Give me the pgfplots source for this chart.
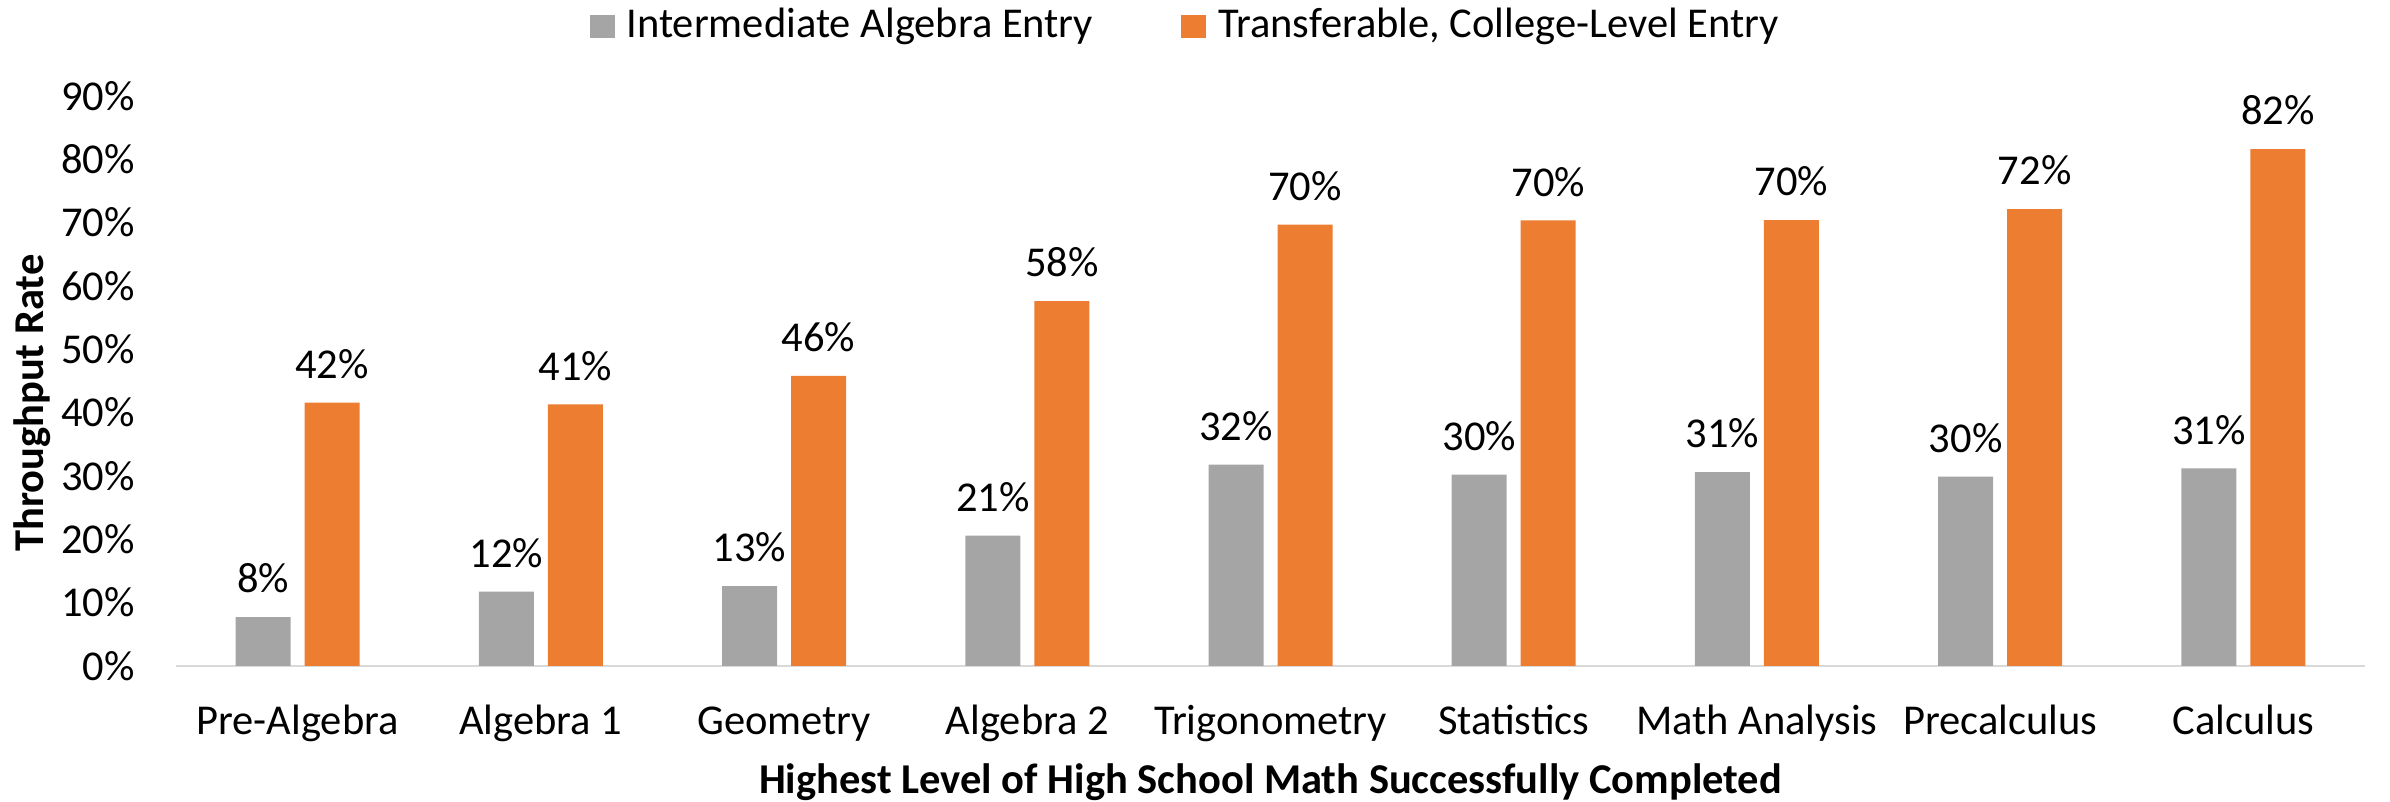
\documentclass[border=0pt]{standalone}
\usepackage{fontspec}
\setmainfont{Carlito}
\usepackage{pgfplots}
\pgfplotsset{compat=1.18}
\definecolor{cgray}{HTML}{A5A5A5}
\definecolor{corange}{HTML}{ED7D31}
\definecolor{caxis}{HTML}{D9D9D9}
\pgfplotsset{sqlegend/.style={legend image code/.code={\fill[##1] (0pt,-4.6pt) rectangle (10pt,4.6pt);}}}
\begin{document}
\fontsize{17}{20}\selectfont
\begin{tikzpicture}[font=\fontsize{17}{20}\selectfont]
\useasboundingbox (-70.4pt,-54.4pt) rectangle (885.6pt,266.4pt);
\begin{axis}[
 at={(0pt,0pt)}, anchor=south west,
 scale only axis, width=875.6pt, height=228pt,
 ybar=5.6pt, bar width=22pt,
 xmin=-0.5, xmax=8.5, ymin=0, ymax=90,
 xtick=data,
 xticklabels={Pre-Algebra,Algebra 1,Geometry,Algebra 2,Trigonometry,Statistics,Math Analysis,Precalculus,Calculus},
 ytick={0,10,...,90},
 yticklabels={0\%,10\%,20\%,30\%,40\%,50\%,60\%,70\%,80\%,90\%},
 axis x line*=bottom, axis y line*=left,
 x axis line style={draw=caxis, line width=0.8pt, -},
 y axis line style={draw=none},
 major tick length=0pt, tick style={draw=none},
 xticklabel style={anchor=base, inner sep=0pt, yshift=-27.4pt},
 yticklabel style={anchor=east, inner sep=0pt, xshift=-16.4pt},
 xlabel={\bfseries Highest Level of High School Math Successfully Completed},
 xlabel style={at={(axis description cs:0.5,0)}, anchor=base, inner sep=0pt, yshift=-51pt},
 ylabel={\bfseries Throughput Rate},
 ylabel style={at={(axis description cs:-0.0606,0.461)}, anchor=base, inner sep=0pt},
 /pgf/number format/assume math mode=true,
 nodes near coords={\pgfmathprintnumber[fixed,precision=0]{\pgfplotspointmeta}\%},
 nodes near coords style={anchor=base, inner sep=0pt, yshift=9.7pt, text=black},
 legend columns=2,
 legend cell align=left,
 legend style={draw=none, fill=none, at={(axis description cs:0.1887,1.1228)}, anchor=west, inner sep=0pt,
   nodes={inner sep=0pt},
   /tikz/every odd column/.append style={column sep=4.8pt},
   /tikz/every even column/.append style={column sep=35.2pt}},
]
\addplot[fill=cgray, draw=none, sqlegend]
 coordinates {(0,7.7) (1,11.75) (2,12.6) (3,20.6) (4,31.8) (5,30.2) (6,30.6) (7,29.9) (8,31.2)};
\addplot[fill=corange, draw=none, sqlegend]
 coordinates {(0,41.6) (1,41.3) (2,45.8) (3,57.6) (4,69.7) (5,70.35) (6,70.4) (7,72.15) (8,81.6)};
\legend{Intermediate Algebra Entry, {Transferable, College-Level Entry}}
\end{axis}
\end{tikzpicture}
\end{document}
